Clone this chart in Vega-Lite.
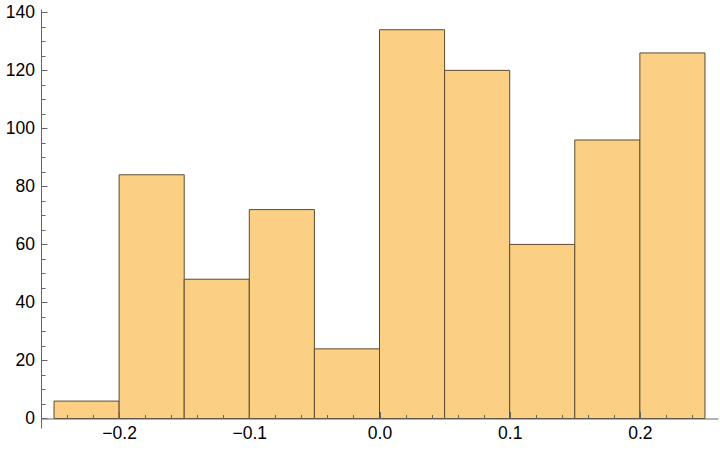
{
  "$schema": "https://vega.github.io/schema/vega-lite/v6.json",
  "width": 677,
  "height": 419,
  "autosize": "none",
  "padding": {"left": 41, "top": 9, "right": 2, "bottom": 26},
  "background": "white",
  "config": {"view": {"stroke": null}},
  "data": {
    "values": [
      {"start": -0.25, "end": -0.2, "count": 6},
      {"start": -0.2, "end": -0.15, "count": 84},
      {"start": -0.15, "end": -0.1, "count": 48},
      {"start": -0.1, "end": -0.05, "count": 72},
      {"start": -0.05, "end": 0.0, "count": 24},
      {"start": 0.0, "end": 0.05, "count": 134},
      {"start": 0.05, "end": 0.1, "count": 120},
      {"start": 0.1, "end": 0.15, "count": 60},
      {"start": 0.15, "end": 0.2, "count": 96},
      {"start": 0.2, "end": 0.25, "count": 126}
    ]
  },
  "mark": {"type": "bar", "fill": "#FCD084", "stroke": "#5c4b30", "strokeWidth": 1, "clip": false},
  "encoding": {
    "x": {
      "field": "start",
      "type": "quantitative",
      "scale": {"domain": [-0.26, 0.26], "nice": false, "zero": false},
      "axis": {
        "title": null,
        "grid": false,
        "zindex": 1,
        "offset": -9.5,
        "values": [-0.24, -0.22, -0.2, -0.18, -0.16, -0.14, -0.12, -0.1, -0.08, -0.06, -0.04, -0.02, 0, 0.02, 0.04, 0.06, 0.08, 0.1, 0.12, 0.14, 0.16, 0.18, 0.2, 0.22, 0.24],
        "domainColor": "#666666",
        "domainWidth": 1,
        "tickColor": "#666666",
        "tickWidth": 1,
        "tickSize": {"condition": {"test": "abs(datum.value*10 - round(datum.value*10)) < 0.001", "value": -7}, "value": -4},
        "labelExpr": "abs(datum.value*10 - round(datum.value*10)) < 0.001 ? format(datum.value, '.1f') : ''",
        "labelOverlap": false,
        "labelFlush": false,
        "labelFont": "Liberation Sans",
        "labelFontSize": 17.5,
        "labelColor": "#000000",
        "labelPadding": 13
      }
    },
    "x2": {"field": "end"},
    "y": {
      "field": "count",
      "type": "quantitative",
      "scale": {"domain": [-3.28, 141.15], "nice": false, "zero": false},
      "axis": {
        "title": null,
        "grid": false,
        "zindex": 1,
        "values": [0, 5, 10, 15, 20, 25, 30, 35, 40, 45, 50, 55, 60, 65, 70, 75, 80, 85, 90, 95, 100, 105, 110, 115, 120, 125, 130, 135, 140],
        "domainColor": "#666666",
        "domainWidth": 1,
        "tickColor": "#666666",
        "tickWidth": 1,
        "tickSize": {"condition": {"test": "datum.value % 20 == 0", "value": -6}, "value": -4},
        "labelExpr": "datum.value % 20 == 0 ? format(datum.value, 'd') : ''",
        "labelOverlap": false,
        "labelFlush": false,
        "labelFont": "Liberation Sans",
        "labelFontSize": 17.5,
        "labelColor": "#000000",
        "labelPadding": 12.5
      }
    },
    "y2": {"datum": 0}
  }
}
